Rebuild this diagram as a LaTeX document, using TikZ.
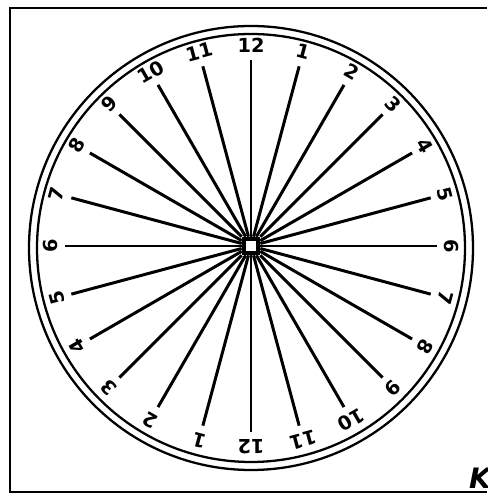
\documentclass[tikz,border=0pt]{standalone}
\usepackage{fontspec}
\setmainfont{DejaVu Sans}
\begin{document}
\begin{tikzpicture}[x=0.02cm, y=0.02cm, line width=1.2pt, font=\bfseries\fontsize{11}{12}\selectfont]
  \useasboundingbox (0,0) rectangle (487,496);
  \clip (0,0) rectangle (487,496);
  % Frame, open on the right
  \draw (487,488) -- (10,488) -- (10,4) -- (487,4);
  % Double rim
  \draw[line width=1.3pt] (251,248) circle[radius=222];
  \draw[line width=1.3pt] (251,248) circle[radius=214];
  % Hub
  \node[draw, fill=white, line width=2.6pt, minimum size=8pt, inner sep=0pt] (hub) at (251,250) {};
  % Spokes and hour numbers
  \foreach \k in {0,...,23}{
    \pgfmathtruncatemacro{\h}{mod(\k+11,12)+1}
    \path (hub.center) ++(90-15*\k:186) coordinate (tip\k);
    \draw[line width=1.7pt] (hub) -- (tip\k);
    \path (hub.center) ++(90-15*\k:201) node[rotate=-15*\k, inner sep=0.5pt] (num\k) {\h};
  }
  % Corner mark
  \node[font=\bfseries\itshape\fontsize{16}{18}\selectfont] (mark) at (480,18) {K};
\end{tikzpicture}
\end{document}
